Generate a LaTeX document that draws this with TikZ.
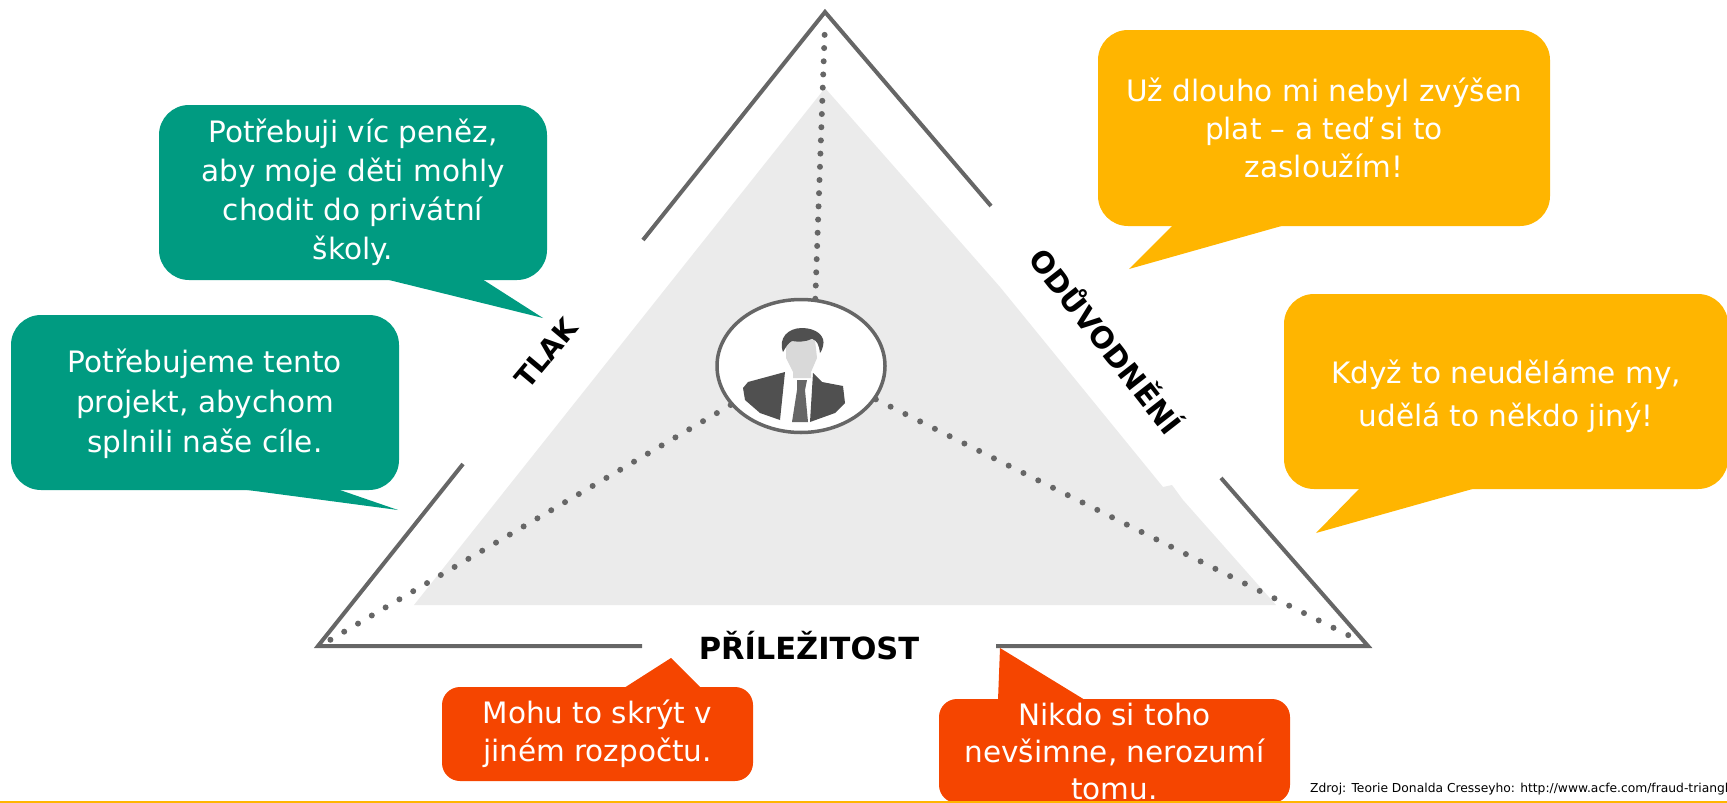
\documentclass[tikz,border=0pt]{standalone}
\usepackage{fontspec}
\setmainfont{DejaVu Sans}
\usetikzlibrary{positioning, shapes.geometric}
\definecolor{bubblegreen}{HTML}{009B81}
\definecolor{bubbleyellow}{HTML}{FFB500}
\definecolor{bubblered}{HTML}{F54500}
\definecolor{linegray}{HTML}{666666}
\definecolor{facegray}{HTML}{D9D9D9}
\definecolor{suitgray}{HTML}{505050}
\tikzset{
    leading/.style={font=\fontsize{29.5}{#1}\selectfont},
    bubble/.style={rounded corners=30pt, inner sep=0pt, text=white, align=center, leading=38},
    sideline/.style={draw=linegray, line width=4pt, line join=miter},
    dotline/.style={draw=linegray, line width=6pt, line cap=round, dash pattern=on 0pt off #1},
    sidelabel/.style={font=\fontsize{#1}{32}\selectfont\bfseries, inner sep=0pt},
}

\begin{document}
\begin{tikzpicture}[x=1pt, y=-1pt]
        \useasboundingbox (0,0) rectangle (1727,803);

        \coordinate (apex) at (825,12);
        \coordinate (cornerL) at (318,646);
        \coordinate (cornerR) at (1368,646);
        \coordinate (topL) at (643,240);
        \coordinate (topR) at (991,206);
        \coordinate (midL) at (463,464);
        \coordinate (midR) at (1221,478);
        \coordinate (baseL) at (642,646);
        \coordinate (baseR) at (996,646);
        \coordinate (dotA) at (825,24);
        \coordinate (dotL) at (330,640);
        \coordinate (dotR) at (1360,641);
        \coordinate (footL) at (0,802);
        \coordinate (footR) at (1727,802);

        % grey triangle
        \fill[black!8] (825,88) -- (1000,287) -- (1163,487) -- (1172,485) -- (1183,500) -- (1276,605) -- (414,605) -- cycle;

        \node[ellipse, draw=linegray, fill=white, line width=3.5pt, minimum width=168pt, minimum height=133pt, inner sep=0pt] (person) at (801,366) {};

        \draw[sideline] (topL) -- (apex) -- (topR);
        \draw[sideline] (midL) -- (cornerL) -- (baseL);
        \draw[sideline] (midR) -- (cornerR) -- (baseR);
        \draw[dotline=13.2pt] (person.78) -- (dotA);
        \draw[dotline=16pt] (person.209) -- (dotL);
        \draw[dotline=16.5pt] (person.-24) -- (dotR);

        % man in the circle
        \fill[facegray] (786,340) -- (815,340) -- (817,358) -- (811,372) -- (811,378) -- (793,378) -- (793,372) -- (786,358) -- cycle;
        \fill[suitgray] (783,352) .. controls (778,338) and (788,328) .. (802,328) .. controls (816,328) and (826,336) .. (823,346) .. controls (822,350) and (821,352) .. (820,353) .. controls (819,345) and (817,340) .. (812,339) .. controls (805,342) and (798,342) .. (792,341) .. controls (788,343) and (786,347) .. (783,352);
        \fill[suitgray] (743,388) -- (748,382) -- (785,372) -- (780,420) -- (760,413) -- (745,400) -- cycle;
        \fill[suitgray] (813,373) -- (822,382) -- (843,386) -- (845,403) -- (835,413) -- (810,422) -- cycle;
        \fill[linegray] (797,380) -- (807,380) -- (805,390) -- (808,422) -- (792,422) -- (797,390) -- cycle;

        % tails
        \fill[bubblegreen] (385,279) -- (543,318) -- (482,279) -- cycle;
        \fill[bubblegreen] (240,489) -- (398,510) -- (337,489) -- cycle;
        \fill[bubbleyellow] (1173,225) -- (1129,269) -- (1285,225) -- cycle;
        \fill[bubbleyellow] (1360,488) -- (1316,533) -- (1476,488) -- cycle;
        \fill[bubblered] (624,688) -- (671,658) -- (701,688) -- cycle;
        \fill[bubblered] (998,700) -- (1000,648) -- (1085,700) -- cycle;

        \node[bubble, leading=39, fill=bubblegreen, minimum width=388pt, minimum height=175pt] (money) at (353,192.5) {Potřebuji víc peněz,\\aby moje děti mohly\\chodit do privátní\\školy.};
        \node[bubble, leading=40, fill=bubblegreen, minimum width=388pt, minimum height=175pt] (project) at (205,402.5) {\rule{0pt}{27pt}Potřebujeme tento\\projekt, abychom\\splnili naše cíle.};
        \node[bubble, fill=bubbleyellow, minimum width=452pt, minimum height=196pt] (salary) at (1324,128) {Už dlouho mi nebyl zvýšen\\plat – a teď si to\\zasloužím!};
        \node[bubble, leading=43, fill=bubbleyellow, minimum width=444pt, minimum height=195pt] (others) at (1506,391.5) {\rule{0pt}{33pt}Když to neuděláme my,\\udělá to někdo jiný!};
        \node[bubble, fill=bubblered, rounded corners=18pt, minimum width=311pt, minimum height=94pt] (budget) at (597.5,734) {Mohu to skrýt v\\jiném rozpočtu.};
        \node[bubble, leading=37, fill=bubblered, rounded corners=18pt, minimum width=351pt, minimum height=104pt] (nobody) at (1114.5,751) {Nikdo si toho\\nevšimne, nerozumí\\tomu.};

        \node[sidelabel=28, rotate=50] (tlak) at (546,353) {TLAK};
        \node[sidelabel=29.5, rotate=-52] (reason) at (1107.5,340) {ODŮVODNĚNÍ};
        \node[sidelabel=30.5] (chance) at (809,646) {PŘÍLEŽITOST};

        \draw[bubbleyellow, line width=1.5pt] (footL) -- (footR);
        \node[anchor=west, inner sep=0pt, font=\fontsize{12.3}{14}\selectfont] (source) at (1310,789) {Zdroj: Teorie Donalda Cresseyho: http://www.acfe.com/fraud-triangl};
    \end{tikzpicture}
\end{document}
